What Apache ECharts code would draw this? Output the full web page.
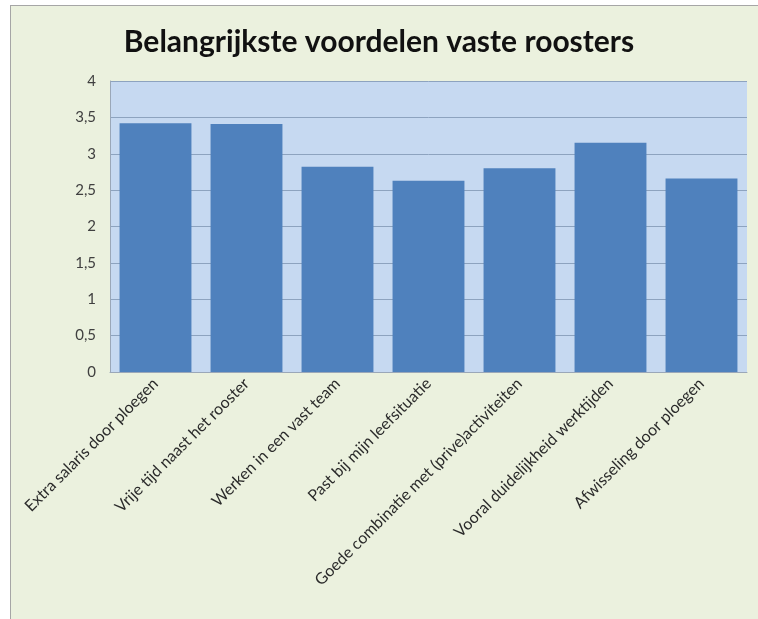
<!DOCTYPE html>
<html>
<head>
<meta charset="utf-8">
<script src="https://cdn.jsdelivr.net/npm/echarts@6/dist/echarts.min.js"></script>
<style>
  html, body { margin: 0; padding: 0; background: #ffffff; }
  #frame {
    position: absolute; left: 10px; top: 5px; width: 748px; height: 614px;
    background: #ebf1de; border-left: 1px solid #a6a6a6; border-top: 1px solid #a6a6a6;
    box-sizing: border-box;
  }
  #chart { position: absolute; left: 0; top: 0; width: 758px; height: 619px; }
</style>
</head>
<body>
<div id="frame"></div>
<div id="chart"></div>
<script>
// Aspects of fixed rosters, average score per aspect
const categories = [
  'Extra salaris door ploegen',
  'Vrije tijd naast het rooster',
  'Werken in een vast team',
  'Past bij mijn leefsituatie',
  'Goede combinatie met (prive)activiteiten',
  'Vooral duidelijkheid werktijden',
  'Afwisseling door ploegen'
];
const scores = [3.42, 3.41, 2.82, 2.63, 2.80, 3.15, 2.66];
const titleText = 'Belangrijkste voordelen vaste roosters';

const chart = echarts.init(document.getElementById('chart'), null, { renderer: 'canvas' });
chart.setOption({
  backgroundColor: 'transparent',
  animation: false,
  title: {
    text: titleText,
    left: 'center',
    top: 22,
    textStyle: { fontFamily: 'Lato', fontWeight: 'bold', fontSize: 30, color: '#111111' }
  },
  grid: {
    left: 110, right: 11, top: 81, bottom: 247,
    show: true, backgroundColor: '#c6d9f1', borderWidth: 0
  },
  xAxis: {
    type: 'category',
    data: categories,
    axisLine: { show: true, lineStyle: { color: '#9aa7b8', width: 1 } },
    axisTick: { show: false },
    axisLabel: {
      rotate: 45, interval: 0, margin: 9,
      fontFamily: 'Lato', fontSize: 16, color: '#2b2b2b'
    }
  },
  yAxis: {
    type: 'value',
    min: 0, max: 4, interval: 0.5,
    axisLine: { show: true, lineStyle: { color: '#9aa7b8', width: 1 } },
    axisTick: { show: false },
    splitLine: { show: true, lineStyle: { color: '#8da3bf', width: 1 } },
    axisLabel: {
      margin: 14, fontFamily: 'Lato', fontSize: 15, color: '#404040',
      formatter: v => String(v).replace('.', ',')
    }
  },
  series: [{
    type: 'bar',
    data: scores,
    barCategoryGap: '21%',
    itemStyle: { color: '#4f81bd' }
  }]
});
</script>
</body>
</html>
